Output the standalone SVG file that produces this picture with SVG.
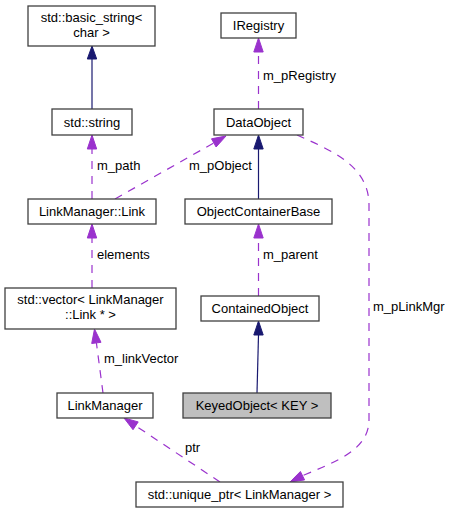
<svg xmlns="http://www.w3.org/2000/svg" width="451" height="513" viewBox="0 0 451 513">
<style>
.node rect{fill:#ffffff;stroke:#404040;stroke-width:1.3}
.node text{font-family:"Liberation Sans",Arial,sans-serif;font-size:13px;fill:#000;text-anchor:middle}
.lbl{font-family:"Liberation Sans",Arial,sans-serif;font-size:13px;fill:#000}
.inh{stroke:#191970;stroke-width:1.2;fill:none}
.inhh{fill:#191970;stroke:#191970}
.use{stroke:#9a32cd;stroke-width:1.2;fill:none;stroke-dasharray:8,7}
.useh{fill:#9a32cd;stroke:#9a32cd}
</style>
<rect width="451" height="513" fill="#ffffff"/>
<g id="connectors">
  <line class="inh" x1="92" y1="109" x2="92" y2="59"/>
  <polygon class="inhh" points="92,46 96.7,59 87.3,59"/>
  <line class="use" x1="92" y1="199" x2="92" y2="149"/>
  <polygon class="useh" points="92,135 96.7,149 87.3,149"/>
  <text class="lbl" x="97" y="170">m_path</text>
  <line class="use" x1="115" y1="199" x2="213.8" y2="142.9"/>
  <polygon class="useh" points="226,136 216.1,147 211.5,138.8"/>
  <text class="lbl" x="189" y="170">m_pObject</text>
  <line class="use" x1="258.5" y1="109" x2="258.5" y2="52"/>
  <polygon class="useh" points="258.5,38 263.2,52 253.8,52"/>
  <text class="lbl" x="263" y="80">m_pRegistry</text>
  <line class="inh" x1="258.5" y1="199" x2="258.5" y2="149"/>
  <polygon class="inhh" points="258.5,135 263.2,149 253.8,149"/>
  <line class="use" x1="92" y1="288" x2="92" y2="238"/>
  <polygon class="useh" points="92,224 96.7,238 87.3,238"/>
  <text class="lbl" x="97" y="259">elements</text>
  <line class="use" x1="258.5" y1="296" x2="258.5" y2="238"/>
  <polygon class="useh" points="258.5,224 263.2,238 253.8,238"/>
  <text class="lbl" x="263" y="259">m_parent</text>
  <line class="inh" x1="257" y1="393" x2="258.5" y2="335"/>
  <polygon class="inhh" points="258.5,321 263.2,335 253.8,335"/>
  <line class="use" x1="103" y1="393" x2="96.4" y2="342.9"/>
  <polygon class="useh" points="94.5,329 101,342.3 91.7,343.5"/>
  <text class="lbl" x="104" y="363">m_linkVector</text>
  <line class="use" x1="220" y1="482" x2="135.6" y2="425.8"/>
  <polygon class="useh" points="124,418 138.2,421.9 133,429.7"/>
  <text class="lbl" x="185" y="452">ptr</text>
  <path class="use" d="M297,135 C330,150 369,165 369,205 L369,420 C369,450 335,462 302.5,475.7"/>
  <polygon class="useh" points="290,482 300.4,471.5 304.6,479.9"/>
  <text class="lbl" x="373" y="311">m_pLinkMgr</text>
</g>
<g id="node-basic_string" class="node">
  <rect x="28" y="6" width="127" height="40"/>
  <text x="91.5" y="22">std::basic_string&lt;</text>
  <text x="91.5" y="37">char &gt;</text>
</g>
<g id="node-IRegistry" class="node">
  <rect x="221" y="13" width="75" height="25"/>
  <text x="258.5" y="30">IRegistry</text>
</g>
<g id="node-std_string" class="node">
  <rect x="52" y="109" width="80" height="26"/>
  <text x="92" y="126.5">std::string</text>
</g>
<g id="node-DataObject" class="node">
  <rect x="214" y="109" width="89" height="26"/>
  <text x="258.5" y="126.5">DataObject</text>
</g>
<g id="node-Link" class="node">
  <rect x="28" y="199" width="128" height="25"/>
  <text x="92" y="216">LinkManager::Link</text>
</g>
<g id="node-ObjectContainerBase" class="node">
  <rect x="185" y="199" width="147" height="25"/>
  <text x="258.5" y="216">ObjectContainerBase</text>
</g>
<g id="node-vector" class="node">
  <rect x="5" y="288" width="171" height="41"/>
  <text x="90.5" y="304">std::vector&lt; LinkManager</text>
  <text x="90.5" y="319">::Link * &gt;</text>
</g>
<g id="node-ContainedObject" class="node">
  <rect x="201" y="296" width="118" height="25"/>
  <text x="260" y="313">ContainedObject</text>
</g>
<g id="node-LinkManager" class="node">
  <rect x="57" y="393" width="96" height="25"/>
  <text x="105" y="410">LinkManager</text>
</g>
<g id="node-KeyedObject" class="node">
  <rect x="183" y="393" width="148" height="25" style="fill:#bfbfbf"/>
  <text x="257" y="410">KeyedObject&lt; KEY &gt;</text>
</g>
<g id="node-unique_ptr" class="node">
  <rect x="136" y="482" width="207" height="25"/>
  <text x="239.5" y="499">std::unique_ptr&lt; LinkManager &gt;</text>
</g>
</svg>
